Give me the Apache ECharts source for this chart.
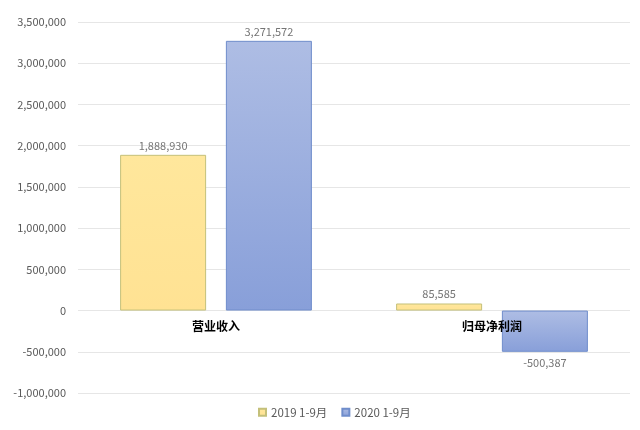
<!DOCTYPE html>
<html>
<head>
<meta charset="utf-8">
<script src="https://cdn.jsdelivr.net/npm/echarts@6/dist/echarts.min.js"></script>
<style>
	html, body { margin: 0; padding: 0; background: #fff; }
	#chart { width: 640px; height: 430px; }
</style>
</head>
<body>
<div id="chart"></div>
<script>
var categories = ['营业收入', '归母净利润'];
var seriesNames = ['2019 1-9月', '2020 1-9月'];
var values2019 = [1888930, 85585];
var values2020 = [3271572, -500387];

var font = '"Noto Sans CJK SC", "Noto Sans", sans-serif';

function fmt(v){
	return echarts.format.addCommas(v);
}

var option = {
	animation: false,
	backgroundColor: '#fff',
	textStyle: { fontFamily: font },
	grid: { left: 78, right: 10, top: 22, bottom: 37 },
	legend: {
		bottom: 7,
		left: 253,
		itemWidth: 7,
		itemHeight: 7,
		itemGap: 14,
		icon: 'rect',
		textStyle: { color: '#595959', fontSize: 11.5, fontFamily: font },
		data: seriesNames
	},
	xAxis: {
		type: 'category',
		data: categories,
		z: 10,
		axisLine: { show: false },
		axisTick: { show: false },
		// the axis sits at the bottom; pull the labels up under the zero line
		axisLabel: { color: '#000', fontSize: 12, fontWeight: 'bold', margin: -73, fontFamily: font }
	},
	yAxis: {
		type: 'value',
		min: -1000000,
		max: 3500000,
		interval: 500000,
		axisLine: { show: false },
		axisTick: { show: false },
		splitLine: { lineStyle: { color: '#e6e6e6' } },
		axisLabel: {
			color: '#595959', fontSize: 11, margin: 12, fontFamily: font,
			formatter: function(v){ return fmt(v); }
		}
	},
	series: [
		{
			name: seriesNames[0],
			type: 'bar',
			data: values2019,
			barWidth: 86,
			barGap: '23%',
			itemStyle: {
				color: new echarts.graphic.LinearGradient(0, 0, 0, 1, [
					{ offset: 0, color: '#ffe79c' },
					{ offset: 1, color: '#ffe293' }
				]),
				borderColor: '#c4c07a',
				borderWidth: 1
			},
			label: {
				show: true, position: 'top', color: '#757575', fontSize: 11, distance: 4,
				formatter: function(p){ return fmt(p.value); }
			}
		},
		{
			name: seriesNames[1],
			type: 'bar',
			barWidth: 86,
			data: values2020.map(function(v){
				// negative bar label goes below the bar
				return v < 0 ? { value: v, label: { position: 'bottom', distance: 6 } } : v;
			}),
			itemStyle: {
				color: new echarts.graphic.LinearGradient(0, 0, 0, 1, [
					{ offset: 0, color: '#aebde4' },
					{ offset: 1, color: '#889fd9' }
				]),
				borderColor: '#6f8dcb',
				borderWidth: 1
			},
			label: {
				show: true, color: '#757575', fontSize: 11, distance: 4,
				position: 'top',
				formatter: function(p){ return fmt(p.value); }
			}
		}
	]
};

var myChart = echarts.init(document.getElementById('chart'));
myChart.setOption(option);
</script>
</body>
</html>
